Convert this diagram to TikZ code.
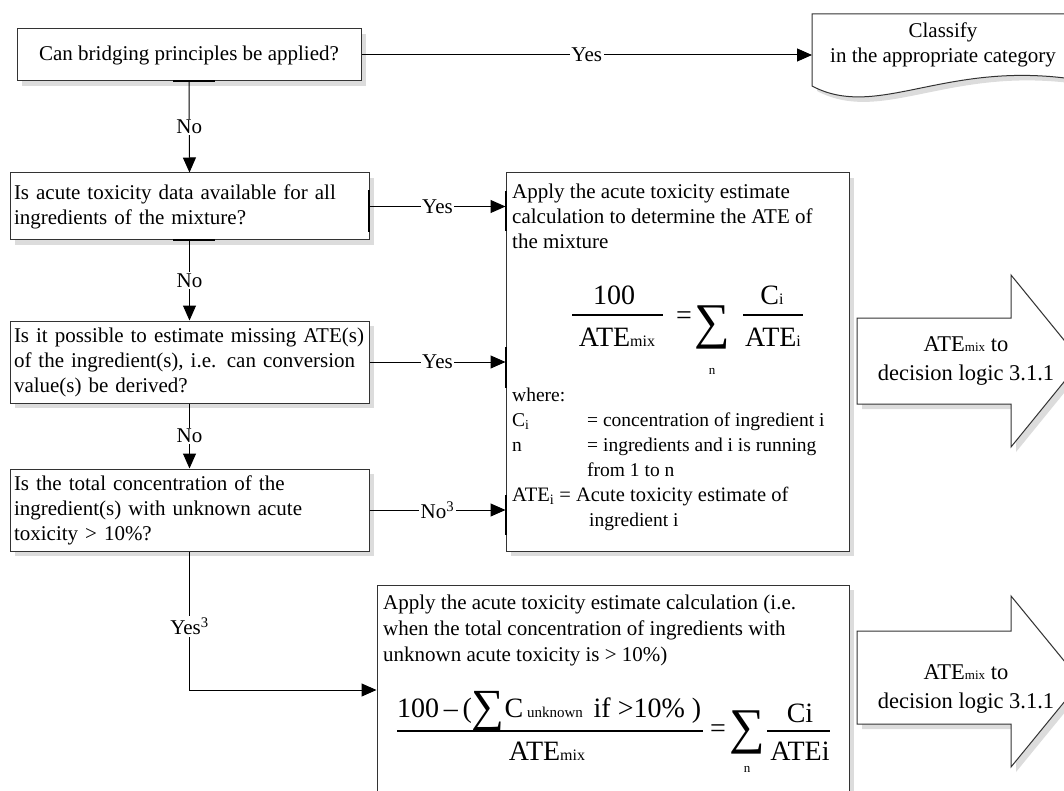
\documentclass[tikz,border=0pt]{standalone}
\usepackage{fontspec}
\setmainfont{Liberation Serif}
\usetikzlibrary{arrows.meta,shadows}
\tikzset{
  box/.style={draw=black!80, line width=1pt, fill=white,
    drop shadow={opacity=0.28, shadow xshift=5pt, shadow yshift=-5pt}, inner sep=0pt},
  qbox/.style={box, minimum width=359pt, text width=351pt, inner xsep=4pt, align=left},
  arr/.style={-{Triangle[length=15pt,width=13pt]}, line width=1pt},
  lbl/.style={fill=white, inner sep=1.5pt},
  glue/.style={line width=2.6pt},
  txt/.style={inner sep=0pt, anchor=base west},
  wtxt/.style={txt, font=\fontsize{19.5}{25}\selectfont},
  fm/.style={inner sep=0pt, font=\fontsize{28}{30}\selectfont},
  sig/.style={inner sep=0pt, font=\fontsize{50}{52}\selectfont},
  lim/.style={inner sep=0pt, font=\fontsize{13}{15}\selectfont},
  bar/.style={line width=1.1pt},
  bigtxt/.style={align=center, inner sep=0pt, font=\fontsize{22.5}{29}\selectfont},
}
\begin{document}
\begin{tikzpicture}[x=1pt, y=-1pt, font=\fontsize{21}{25}\selectfont]
\useasboundingbox (0,0) rectangle (1064,791);
\clip (0,0) rectangle (1064,791);

% left column question boxes
\node[box, minimum width=344pt, minimum height=52pt, align=center] (b1) at (189,55) {Can bridging principles be applied?};
\node[qbox, minimum height=67pt] (b2) at (189.5,206.5) {Is acute toxicity data available for all\\ingredients of the mixture?};
\node[qbox, minimum height=82pt] (b3) at (189.5,362) {Is it possible to estimate missing ATE(s)\\of the ingredient(s), i.e. can conversion\\value(s) be derived?};
\node[qbox, minimum height=82pt] (b4) at (189.5,510) {Is the total concentration of the\\ingredient(s) with unknown acute\\toxicity {>} 10\%?};

% classify document shape
\draw[box] (812,14) -- (1090,14) -- (1090,82) .. controls (950,55) and (880,122) .. (812,86) -- cycle;
\coordinate (clin) at (812,55);
\node[align=center, inner sep=0pt] (cl) at (943,45) {Classify\\in the appropriate category};

% formula boxes
\node[box, minimum width=343pt, minimum height=378pt] (f1) at (677.5,362) {};
\node[box, minimum width=472pt, minimum height=245pt] (f2) at (613,707.5) {};

% big arrows
\draw[box] (857,318) -- (1011,318) -- (1011,275) -- (1081,361) -- (1011,447) -- (1011,404) -- (857,404) -- cycle;
\node[bigtxt] (a1) at (966,361) {ATE{\fontsize{13}{14}\selectfont mix} to\\decision logic 3.1.1};
\draw[box] (857,631) -- (1011,631) -- (1011,596) -- (1081,681.5) -- (1011,767) -- (1011,724) -- (857,724) -- cycle;
\node[bigtxt] (a2) at (966,689) {ATE{\fontsize{13}{14}\selectfont mix} to\\decision logic 3.1.1};

% text in f1
\node[txt] (t1) at (512,199) {Apply the acute toxicity estimate};
\node[txt] (t2) at (512,224) {calculation to determine the ATE of};
\node[txt] (t3) at (512,249) {the mixture};
\node[fm, anchor=base] (n1) at (614,305) {100};
\draw[bar] (572,315) -- (663,315);
\node[fm, anchor=base] (d1) at (617,346) {ATE{\fontsize{16}{18}\selectfont mix}};
\node[fm] (e1) at (684,318) {=};
\node[sig] (s1) at (712,327) {∑};
\node[lim] (m1) at (712,371) {n};
\node[fm, anchor=base] (n2) at (772,305) {C{\fontsize{16}{18}\selectfont i}};
\draw[bar] (743,315) -- (803,315);
\node[fm, anchor=base] (d2) at (773,346) {ATE{\fontsize{16}{18}\selectfont i}};

\node[wtxt] (w1) at (512,401) {where:};
\node[wtxt] (w2) at (512,426) {C\textsubscript{i}};
\node[wtxt] (w3) at (587,426) {= concentration of ingredient i};
\node[wtxt] (w4) at (512,451) {n};
\node[wtxt] (w5) at (587,451) {= ingredients and i is running};
\node[wtxt] (w6) at (587,476) {from 1 to n};
\node[wtxt, font=\fontsize{20.5}{25}\selectfont] (w7) at (512,501) {ATE\textsubscript{i} = Acute toxicity estimate of};
\node[wtxt] (w8) at (589,526) {ingredient i};

% text in f2
\node[txt] (u1) at (383,609) {Apply the acute toxicity estimate calculation (i.e.};
\node[txt] (u2) at (383,635) {when the total concentration of ingredients with};
\node[txt] (u3) at (383,661) {unknown acute toxicity is {>} 10\%)};
\node[fm, anchor=base west] (n3) at (397,717) {100\,–\,(\raisebox{-4pt}{\fontsize{46}{48}\selectfont ∑}C{\fontsize{15}{17}\selectfont\ unknown\ } if {>}10\%\ )};
\draw[bar] (397,731) -- (703,731);
\node[fm, anchor=base] (d3) at (547,760) {ATE{\fontsize{16}{18}\selectfont mix}};
\node[fm] (e2) at (718,731) {=};
\node[sig] (s2) at (747,732) {∑};
\node[lim] (m2) at (747,769) {n};
\node[fm, anchor=base] (n4) at (800,722) {Ci};
\draw[bar] (767,731) -- (830,731);
\node[fm, anchor=base] (d4) at (800,760) {ATEi};

% connectors
\draw[arr] (b1.east) -- node[lbl, pos=0.5] {Yes} (clin);
\draw[arr] (b1.south) -- node[lbl] {No} (b2.north);
\draw[arr] (b2.south) -- node[lbl] {No} (b3.north);
\draw[arr] (b3.south) -- node[lbl] {No} (b4.north);
\draw[arr] (b2.east) -- node[lbl] {Yes} (b2.east -| f1.west);
\draw[arr] (b3.east) -- node[lbl] {Yes} (b3.east -| f1.west);
\draw[arr] (b4.east) -- node[lbl] {No\textsuperscript{3}} (b4.east -| f1.west);
\draw[arr] (b4.south) |- node[lbl, pos=0.27] {Yes\textsuperscript{3}} (f2.west |- 0,690);

% connection glue marks
\draw[glue] (506,191) -- (506,231);
\draw[glue] (506,347) -- (506,388);
\draw[glue] (506,495) -- (506,535);
\draw[glue] (173,81) -- (215,81);
\draw[glue] (173,240) -- (215,240);
\draw[glue] (369,190) -- (369,232);
\end{tikzpicture}
\end{document}
